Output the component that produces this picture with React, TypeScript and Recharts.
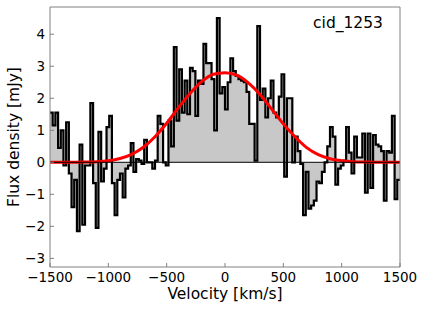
import { ComposedChart, Area, Line, XAxis, YAxis, ReferenceLine } from 'recharts'

// spectrum: 130 channels from -1500 to 1500 km/s
const binStart = -1500
const binWidth = 3000 / 130
const flux = [
  1.55, 1.15, 1.55, 0.45, 1.0, -0.1, 1.25, -0.35, -1.4, -0.55,
  -2.15, 0.55, -1.95, -0.1, -0.1, 1.85, -0.65, -2.05, 0.95, -0.6,
  -0.2, 1.1, 1.45, -0.65, -1.65, -0.55, -0.35, -1.1, -0.2, -0.1,
  0.6, -0.3, 0.1, 0.05, -0.05, 0.7, 0.0, 0.0, -0.2, 0.05,
  1.45, 1.2, 0.0, -0.1, 1.3, 0.5, 3.6, 1.3, 2.9, 1.55,
  2.55, 1.5, 2.95, 2.85, 1.45, 2.55, 2.45, 3.7, 3.1, 3.1,
  2.6, 1.0, 4.5, 2.15, 2.35, 1.65, 2.5, 3.25, 2.85, 2.7,
  2.6, 2.55, 2.5, 2.2, 1.2, 1.2, 0.05, 4.25, 1.95, 2.3,
  1.4, 2.0, 2.55, 1.55, 1.4, 2.05, 2.75, -0.45, 2.0, 2.0,
  0.0, 0.8, 0.35, -0.05, -1.65, -0.3, -1.45, -1.35, -1.2, -0.6,
  -0.65, -0.3, 0.0, 0.5, 1.1, 0.8, -0.7, -0.2, -0.1, 0.05,
  1.1, 0.3, -0.35, 0.8, 0.15, 0.15, 0.9, -0.95, 0.9, -0.8,
  0.85, 0.55, 0.5, 0.35, -1.2, 0.35, 0.3, 1.45, -1.15, -0.55,
]

// gaussian fit
const fitVelocity = [
  -1500, -1400, -1300, -1200, -1100, -1000, -900, -800, -700, -600, -500,
  -400, -300, -200, -100, 0, 100, 200, 300, 400, 500,
  600, 700, 800, 900, 1000, 1100, 1200, 1300, 1400, 1500,
]
const fitFlux = [
  0.0, 0.0, 0.0, 0.01, 0.02, 0.05, 0.12, 0.25, 0.47, 0.8, 1.22,
  1.7, 2.15, 2.52, 2.75, 2.8, 2.72, 2.48, 2.12, 1.66, 1.2,
  0.8, 0.46, 0.24, 0.11, 0.05, 0.02, 0.01, 0.0, 0.0, 0.0,
]

const xTicks = [-1500, -1000, -500, 0, 500, 1000, 1500]
const yTicks = [-3, -2, -1, 0, 1, 2, 3, 4]

const histData = flux
  .map((f, i) => ({ v: binStart + i * binWidth, flux: f }))
  .concat([{ v: 1500, flux: flux[flux.length - 1] }])
const fitData = fitVelocity.map((v, i) => ({ v, fit: fitFlux[i] }))
const zeroData = [
  { v: -1500, zero: 0 },
  { v: 1500, zero: 0 },
]

const font = 'DejaVu Sans, sans-serif'
const minus = (n: number) => String(n).replace('-', '\u2212')
const tickStyle = { fill: '#000', fontSize: 13.5, fontFamily: font }

export default function App() {
  return (
    <div style={{ position: 'absolute', left: 0, top: 0, width: 425, height: 311, background: '#fff' }}>
      <ComposedChart width={425} height={311} margin={{ top: 7, right: 25, bottom: 0, left: 0 }}>
        <XAxis
          dataKey="v"
          type="number"
          domain={[-1500, 1500]}
          ticks={xTicks}
          interval={0}
          allowDataOverflow
          height={44}
          tickSize={-4}
          tickMargin={9}
          stroke="#808080"
          tick={tickStyle}
          tickFormatter={minus}
        />
        <YAxis
          type="number"
          domain={[-3.27, 4.85]}
          ticks={yTicks}
          interval={0}
          allowDataOverflow
          width={50}
          tickSize={-4}
          tickMargin={9}
          stroke="#808080"
          tick={tickStyle}
          tickFormatter={minus}
        />
        <Area
          data={histData}
          dataKey="flux"
          type="stepAfter"
          baseValue={0}
          fill="#c8c8c8"
          fillOpacity={1}
          stroke="#000"
          strokeWidth={2.2}
          dot={false}
          activeDot={false}
          isAnimationActive={false}
        />
        <Line
          data={fitData}
          dataKey="fit"
          type="monotone"
          stroke="#ff0000"
          strokeWidth={3}
          dot={false}
          activeDot={false}
          isAnimationActive={false}
        />
        <Line
          data={zeroData}
          dataKey="zero"
          stroke="#000"
          strokeWidth={1}
          dot={false}
          activeDot={false}
          isAnimationActive={false}
        />
        <ReferenceLine x={1500} stroke="#808080" />
        <ReferenceLine y={4.85} stroke="#808080" />
      </ComposedChart>
      <svg width={425} height={311} style={{ position: 'absolute', left: 0, top: 0, pointerEvents: 'none' }}>
        <text x={348} y={28} textAnchor="middle" fontSize={15.5} fontFamily={font} fill="#000">
          cid_1253
        </text>
        <text x={225} y={299} textAnchor="middle" fontSize={15.5} fontFamily={font} fill="#000">
          Velocity [km/s]
        </text>
        <text
          x={19}
          y={137}
          textAnchor="middle"
          fontSize={15.5}
          fontFamily={font}
          fill="#000"
          transform="rotate(-90, 19, 137)"
        >
          Flux density [mJy]
        </text>
      </svg>
    </div>
  )
}
